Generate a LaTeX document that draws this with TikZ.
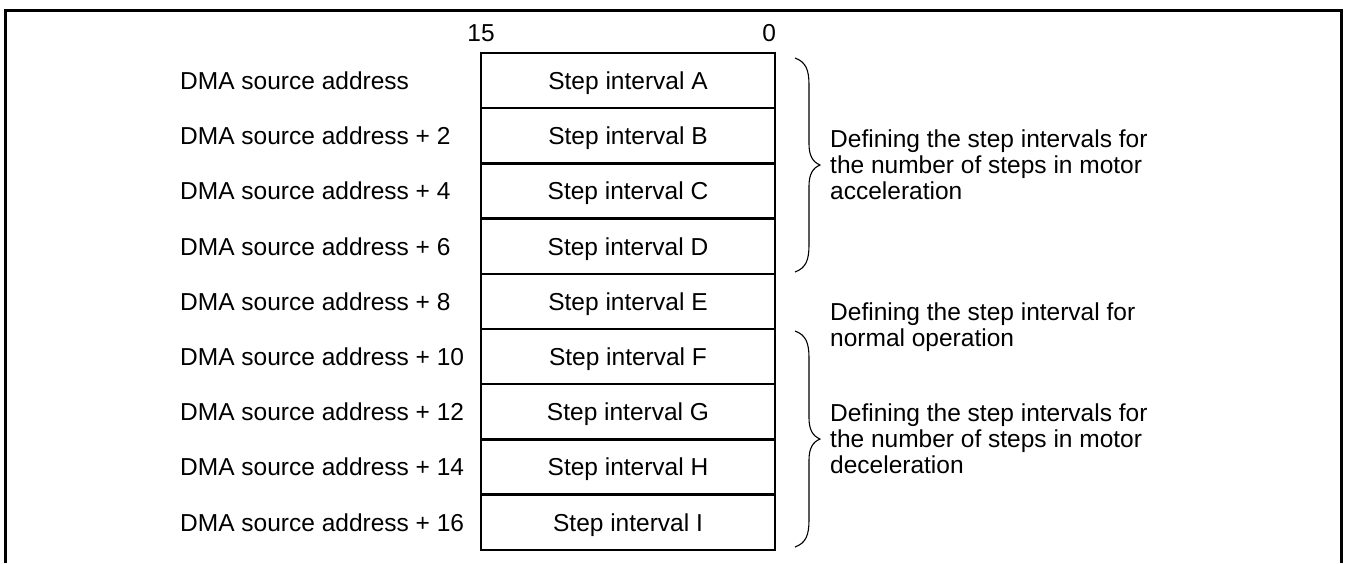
\documentclass[tikz,border=0pt]{standalone}
\usepackage{fontspec}
\setmainfont{Liberation Sans}
\usetikzlibrary{positioning}
% right curly brace: x, top y, bottom y, name of the tip
\newcommand{\curlybr}[4]{%
  \draw[brace line] (#1,#2) .. controls ({#1+11},{#2+4}) and ({#1+14},{#2+12}) .. ({#1+14},{#2+27})
    -- ({#1+14},{(#2+#3)/2-21}) .. controls ({#1+14},{(#2+#3)/2-9}) and ({#1+18},{(#2+#3)/2-3}) .. ({#1+25},{(#2+#3)/2})
    .. controls ({#1+18},{(#2+#3)/2+3}) and ({#1+14},{(#2+#3)/2+9}) .. ({#1+14},{(#2+#3)/2+21})
    -- ({#1+14},{#3-27}) .. controls ({#1+14},{#3-12}) and ({#1+11},{#3-4}) .. (#1,#3);
  \coordinate (#4) at ({#1+25},{(#2+#3)/2});}

\begin{document}
\begin{tikzpicture}[
  x=1pt, y=-1pt,
  font=\fontsize{24.5}{25.8}\selectfont,
  cell/.style={draw, line width=2.5pt, minimum width=294pt, minimum height=55.2pt,
               inner sep=0pt, outer sep=0pt, text height=17.6pt, text depth=0pt},
  addr/.style={anchor=west, inner sep=0pt, text height=17.6pt, text depth=0pt},
  bits/.style={inner sep=2pt, outer sep=0pt},
  note/.style={align=left, inner sep=2pt},
  brace line/.style={line width=1.1pt}
]
  \useasboundingbox (0,0) rectangle (1345,563);
  \draw[line width=3pt] (5,563) -- (5,10) -- (1341,10) -- (1341,563);

  \node[cell] (sA) at (628,80.6) {Step interval A};
  \foreach \l/\p in {B/A,C/B,D/C,E/D,F/E,G/F,H/G,I/H}
    \node[cell, below=0pt of s\p] (s\l) {Step interval \l};

  \node[addr] (aA) at (sA -| 180,0) {DMA source address};
  \foreach \l/\n in {B/2,C/4,D/6,E/8,F/10,G/12,H/14,I/16}
    \node[addr] (a\l) at (s\l -| 180,0) {DMA source address + \n};

  \node[bits, above=9pt of sA.north west] (b15) {15};
  \node[bits, above=9pt of sA.north east, anchor=south east, xshift=3pt] (b0) {0};

  \curlybr{795}{58}{272}{bA}
  \curlybr{795}{331}{547}{bF}

  \node[note, right=8pt of bA] (nacc) {Defining the step intervals for\\the number of steps in motor\\acceleration};
  \node[note, anchor=west] (nnorm) at (828,327) {Defining the step interval for\\normal operation};
  \node[note, right=8pt of bF] (ndec) {Defining the step intervals for\\the number of steps in motor\\deceleration};
\end{tikzpicture}
\end{document}
